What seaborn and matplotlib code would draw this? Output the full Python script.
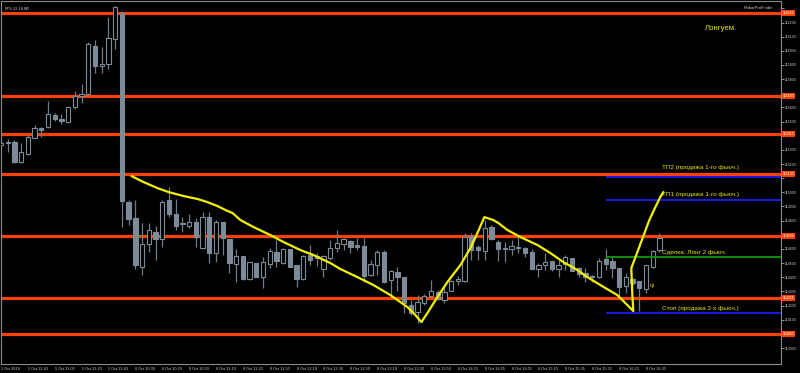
import numpy as np
import pandas as pd
import matplotlib
matplotlib.use("Agg")
import matplotlib.pyplot as plt
import matplotlib.transforms as mtransforms
import seaborn as sns

# ---------------- data ----------------
opens = [115334, 115348, 115355, 115214, 115271, 115384, 115454, 115461, 115546, 115518,
         115497, 115603, 115681, 115695, 116034, 115893, 115907, 116083, 116267, 114931,
         114818, 114472, 114635, 114719, 114670, 114946, 114847, 114783, 114762, 114790,
         114606, 114825, 114571, 114790, 114670, 114493, 114550, 114387, 114500, 114401,
         114493, 114578, 114500, 114599, 114486, 114387, 114557, 114536, 114458, 114536,
         114606, 114635, 114656, 114628, 114620, 114416, 114486, 114578, 114380, 114437,
         114401, 114204, 114154, 114218, 114267, 114295, 114239, 114303, 114373, 114373,
         114691, 114613, 114585, 114755, 114649, 114606, 114599, 114613, 114606, 114578,
         114458, 114486, 114514, 114458, 114493, 114536, 114465, 114430, 114409, 114401,
         114529, 114514, 114465, 114338, 114387, 114373, 114317, 114472, 114592]
highs = [115370, 115377, 115370, 115348, 115405, 115476, 115461, 115645, 115560, 115553,
         115610, 115716, 115765, 116062, 116076, 116027, 116239, 116317, 116281, 114946,
         114946, 114783, 114783, 114762, 114946, 115037, 114953, 114825, 114847, 114818,
         114861, 114861, 114804, 114790, 114670, 114599, 114550, 114507, 114500, 114543,
         114606, 114663, 114606, 114599, 114486, 114557, 114628, 114571, 114557, 114663,
         114734, 114677, 114663, 114677, 114677, 114522, 114592, 114592, 114451, 114472,
         114401, 114239, 114274, 114281, 114380, 114310, 114331, 114380, 114409, 114712,
         114712, 114628, 114804, 114769, 114663, 114649, 114663, 114684, 114613, 114599,
         114500, 114571, 114514, 114522, 114557, 114536, 114472, 114465, 114416, 114536,
         114599, 114543, 114465, 114430, 114394, 114373, 114486, 114592, 114712]
lows = [115320, 115285, 115207, 115207, 115264, 115384, 115391, 115454, 115504, 115483,
        115490, 115589, 115631, 115688, 115843, 115843, 115871, 116013, 114755, 114769,
        114458, 114416, 114578, 114522, 114613, 114825, 114734, 114719, 114748, 114613,
        114606, 114500, 114507, 114557, 114430, 114366, 114380, 114380, 114401, 114324,
        114465, 114472, 114493, 114472, 114331, 114380, 114486, 114479, 114401, 114522,
        114578, 114592, 114571, 114592, 114366, 114409, 114416, 114359, 114274, 114303,
        114147, 114133, 114076, 114204, 114260, 114239, 114218, 114303, 114345, 114366,
        114522, 114522, 114522, 114663, 114514, 114507, 114557, 114571, 114543, 114458,
        114401, 114451, 114444, 114401, 114451, 114444, 114401, 114366, 114366, 114394,
        114451, 114394, 114260, 114288, 114345, 114161, 114288, 114465, 114578]
closes = [115348, 115355, 115214, 115285, 115391, 115454, 115440, 115553, 115518, 115504,
          115603, 115681, 115695, 116048, 115893, 115907, 116091, 116310, 114939, 114811,
          114486, 114635, 114734, 114670, 114931, 114847, 114762, 114776, 114790, 114684,
          114825, 114571, 114790, 114677, 114500, 114550, 114387, 114507, 114401, 114507,
          114585, 114514, 114599, 114472, 114387, 114550, 114522, 114550, 114550, 114606,
          114642, 114670, 114613, 114613, 114409, 114493, 114578, 114366, 114444, 114401,
          114218, 114147, 114225, 114267, 114303, 114246, 114295, 114373, 114387, 114684,
          114592, 114592, 114748, 114670, 114599, 114599, 114620, 114606, 114571, 114458,
          114486, 114507, 114458, 114486, 114543, 114444, 114423, 114401, 114401, 114514,
          114493, 114465, 114331, 114401, 114359, 114324, 114486, 114585, 114677]

date_labels = ["5 Oct 2018", "5 Oct 22:40", "5 Oct 23:00", "5 Oct 23:20", "5 Oct 23:40",
               "8 Oct 10:00", "8 Oct 10:20", "8 Oct 10:50", "8 Oct 11:10", "8 Oct 11:30",
               "8 Oct 11:50", "8 Oct 12:10", "8 Oct 12:30", "8 Oct 12:50", "8 Oct 13:10",
               "8 Oct 13:30", "8 Oct 13:50", "8 Oct 14:15", "8 Oct 14:35", "8 Oct 14:55",
               "8 Oct 15:15", "8 Oct 15:35", "8 Oct 15:55", "8 Oct 16:15", "8 Oct 16:35"]
date_tick_bars = [0, 4, 8, 12, 16, 20, 24, 28, 32, 36, 40, 44, 48, 52, 56, 60,
                  64, 68, 72, 76, 80, 84, 88, 92, 96]

price_ticks = [113900, 114000, 114100, 114200, 114300, 114400, 114500, 114600, 114700,
               114800, 114900, 115000, 115100, 115200, 115300, 115400, 115500, 115600,
               115700, 115800, 115900, 116000, 116100, 116200, 116300]

# support / resistance levels (orange) and their labels
levels = [116265, 115680, 115410, 115130, 114690, 114255, 114000]
level_labels = ["116265", "115680", "115410", "115130", "114690", "114255", "114000"]

# trade levels
trade_start = 90.0
tp2_price = 115110
tp1_price = 114945
deal_price = 114543
stop_price = 114147
trade_texts = ["ТП2 (продажа 1-го фьюч.)", "ТП1 (продажа 1-го фьюч.)",
               "Сделка: Лонг 2 фьюч.", "Стоп (продажа 2-х фьюч.)"]
trade_text_prices = [115172, 114988, 114578, 114182]

# hand-drawn yellow curve (bar index, price)
curve_x = [19.42, 21.2, 23.29, 24.93, 27.16, 29.24, 30.73, 32.22, 33.41, 34.45, 35.64,
           37.57, 40.1, 42.04, 44.57, 46.5, 49.03, 50.52, 53.05, 55.43, 57.96, 60.49,
           61.68, 62.57, 63.47, 64.96, 66.44, 68.38, 69.87, 70.91, 71.95, 73.29, 74.03,
           75.37, 77.31, 79.84, 81.77, 83.71, 85.79, 87.28, 89.21, 91.74, 94.12,
           93.97, 93.82, 94.72, 95.61, 96.5, 97.4, 98.14, 98.59]
curve_y = [115115, 115073, 115030, 115002, 114974, 114953, 114931, 114903, 114875, 114854,
           114804, 114755, 114698, 114649, 114592, 114557, 114500, 114458, 114401, 114345,
           114274, 114189, 114133, 114083, 114147, 114260, 114366, 114486, 114606, 114712,
           114825, 114804, 114783, 114734, 114684, 114628, 114571, 114507, 114451, 114401,
           114345, 114274, 114161, 114274, 114465, 114578, 114691, 114804, 114896, 114967,
           115002]

# ---------------- style ----------------
sns.set_style("dark", rc={"axes.facecolor": "black", "figure.facecolor": "black",
                          "axes.edgecolor": "#8a8a8a", "axes.grid": False})
plt.rcParams["font.family"] = ["Liberation Sans", "DejaVu Sans"]

fig = plt.figure(figsize=(8.0, 3.73), dpi=100, facecolor="black")
ax = fig.add_axes([1 / 800, 9 / 373, 780 / 800, 363 / 373])
ax.set_facecolor("black")

df = pd.DataFrame({"open": opens, "high": highs, "low": lows, "close": closes})
df["bar"] = np.arange(len(df))
df["bull"] = df["close"] >= df["open"]

ORANGE = "#ff4000"
GREY_W = "#6f7c88"
GREY_B = "#7d8b98"

# orange levels (behind candles)
for lv in levels:
    ax.axhline(lv, color=ORANGE, lw=2.3, zorder=1)

# wicks
ax.vlines(df["bar"], df["low"], df["high"], color=GREY_W, lw=0.9, zorder=2)
# bodies
body_lo = np.minimum(df["open"], df["close"])
body_h = np.maximum(np.abs(df["close"] - df["open"]), 6)
face = np.where(df["bull"], "black", GREY_B)
ax.bar(df["bar"], body_h, bottom=body_lo, width=0.64, color=face,
       edgecolor=GREY_B, linewidth=0.8, zorder=3)

# trade lines
xmax_bar = 116.1
ax.hlines([tp2_price, tp1_price, stop_price], trade_start, xmax_bar,
          color="#1c1cf0", lw=1.3, zorder=4)
ax.hlines([deal_price], trade_start, xmax_bar, color="#0a9a0a", lw=1.3, zorder=4)

# yellow hand-drawn curve
sns.lineplot(x=curve_x, y=curve_y, sort=False, estimator=None, color="#f2f200",
             lw=1.6, ax=ax, zorder=6)

# buy marker
ax.text(96.9, 114345, "ψ", color="#e0c000", fontsize=4.5, ha="center", va="center", zorder=7)

# trade texts
TXT = "#e6e600"
text_x = 98.4
for txt, yv in zip(trade_texts, trade_text_prices):
    ax.text(text_x, yv, txt, color=TXT, fontsize=4.6, ha="left", va="center", zorder=7)

ax.text(104.8, 116161, "Лонгуем.", color=TXT, fontsize=5.6, ha="left", va="center", zorder=7)

# top corner texts
ax.text(0.005, 0.985, "RTS-12.18,M5", transform=ax.transAxes, color="#d0d0d0",
        fontsize=2.8, ha="left", va="top")
ax.text(0.952, 0.985, "PinbarProFinder", transform=ax.transAxes, color="#d0d0d0",
        fontsize=3.0, ha="left", va="top")

# axes limits and ticks
ax.set_xlim(0.0, xmax_bar)
ax.set_ylim(113787, 116352)

ax.yaxis.tick_right()
ax.set_yticks(price_ticks)
# labels hidden behind the orange price boxes (as in the terminal)
tick_text = [("" if min(abs(p - lv) for lv in levels) < 45 else str(p)) for p in price_ticks]
ax.set_yticklabels(tick_text)
ax.tick_params(axis="y", colors="#c8c8c8", labelsize=2.6, length=2, width=0.5, pad=1)
ax.set_xticks(date_tick_bars)
ax.set_xticklabels(date_labels, ha="left")
ax.tick_params(axis="x", colors="#c8c8c8", labelsize=2.8, length=2, width=0.5, pad=0.5)
ax.set_xlabel("")
ax.set_ylabel("")

# orange price boxes on the right axis
trans = mtransforms.blended_transform_factory(ax.transAxes, ax.transData)
for lv, lab in zip(levels, level_labels):
    ax.text(1.002, lv, lab, transform=trans, color="white", fontsize=2.6,
            ha="left", va="center", clip_on=False, zorder=8,
            bbox=dict(facecolor=ORANGE, edgecolor="none", pad=0.6))

for sp in ax.spines.values():
    sp.set_color("#8a8a8a")
    sp.set_linewidth(0.8)

fig.savefig("out.png", dpi=100, facecolor="black")
